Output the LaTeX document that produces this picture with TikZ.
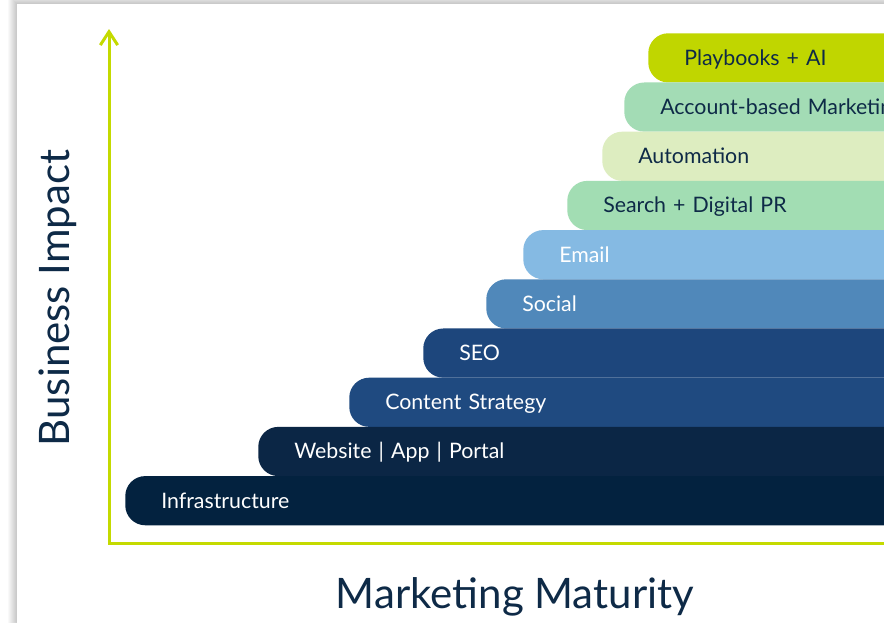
\documentclass[tikz,border=0pt]{standalone}
\usepackage{fontspec}
\setmainfont{Lato}
\usepackage{tikz}
\usetikzlibrary{positioning,arrows.meta}

\definecolor{navy}{HTML}{0E2A47}
\definecolor{lime}{HTML}{C4DA00}
\definecolor{cPlay}{HTML}{C0D600}
\definecolor{cAbm}{HTML}{A3DCB5}
\definecolor{cAuto}{HTML}{DDEDC0}
\definecolor{cSearch}{HTML}{A2DDB3}
\definecolor{cEmail}{HTML}{85BAE3}
\definecolor{cSocial}{HTML}{5088BA}
\definecolor{cSeo}{HTML}{1D467C}
\definecolor{cContent}{HTML}{1F4A80}
\definecolor{cWeb}{HTML}{0B2645}
\definecolor{cInfra}{HTML}{03223F}

\tikzset{
  bar/.style={rectangle, rounded corners=15pt, anchor=north west, align=left,
    minimum height=36.9pt, inner xsep=27pt, inner ysep=0pt, text width=750pt,
    text height=1.3em, text depth=0.19em, font=\fontsize{16}{19}\selectfont},
  axis/.style={lime, line width=2.25pt},
  title/.style={navy, font=\fontsize{31.5}{36}\selectfont}
}

\begin{document}
\begin{tikzpicture}[x=0.75pt,y=-0.75pt]
  \clip (0,0) rectangle (884,622);
  \fill[white] (0,0) rectangle (884,622);
  % card with a soft shadow on the left and top
  \foreach \k in {9,...,1}
    \fill[black,opacity=0.022] (17-\k,4-\k) rectangle (900,640);
  \fill[white] (17,4) rectangle (900,640);

  % stacked bars, top to bottom
  \foreach \i/\l/\col/\tc/\lbl in {
      0/648/cPlay/navy/Playbooks + AI,
      1/624/cAbm/navy/Account-based Marketing,
      2/602/cAuto/navy/Automation,
      3/567/cSearch/navy/Search + Digital PR,
      4/523/cEmail/white/Email,
      5/486/cSocial/white/Social,
      6/423/cSeo/white/SEO,
      7/349/cContent/white/Content Strategy,
      8/258/cWeb/white/Website | App | Portal,
      9/125/cInfra/white/Infrastructure}{
    \node[bar, fill=\col, text=\tc] (bar\i) at (\l,33+49.2*\i) {\lbl};
  }

  % axes
  \coordinate (origin) at (109,543);
  \coordinate (ytop) at (109,29);
  \coordinate (xend) at (900,543);
  \draw[axis, -{Straight Barb[length=10pt,width=13pt]}] (xend) -- (origin) -- (ytop);

  \node[title, rotate=90] (impact) at (58,298) {Business Impact};
  \node[title] (maturity) at (515,597) {Marketing Maturity};
\end{tikzpicture}
\end{document}
